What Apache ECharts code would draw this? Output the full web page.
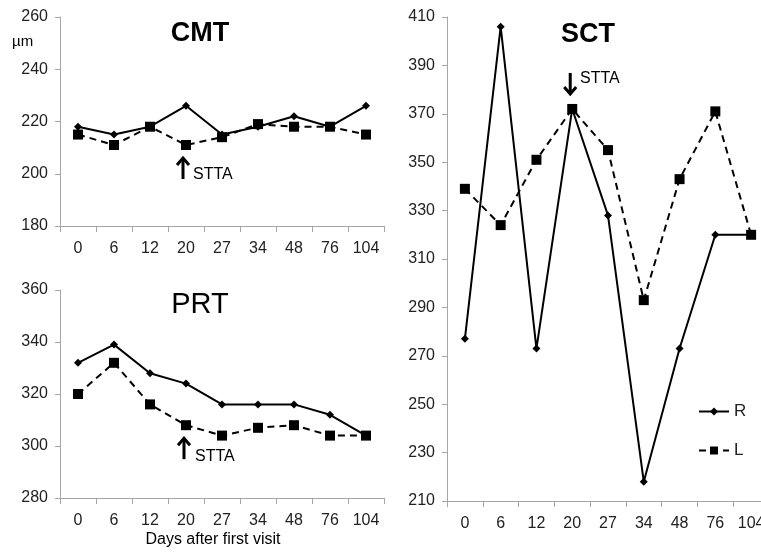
<!DOCTYPE html>
<html>
<head>
<meta charset="utf-8">
<script src="https://cdn.jsdelivr.net/npm/echarts@6/dist/echarts.min.js"></script>
<style>
  html, body { margin: 0; padding: 0; background: #fff; }
  #main { width: 761px; height: 558px; }
</style>
</head>
<body>
<div id="main"></div>
<script>
// days after first visit
var days = ['0', '6', '12', '20', '27', '34', '48', '76', '104'];

// central macular thickness
var cmtR = [218, 215, 218, 226, 215, 218, 222, 218, 226];
var cmtL = [215, 211, 218, 211, 214, 219, 218, 218, 215];
// peripapillary retinal thickness
var prtR = [332, 339, 328, 324, 316, 316, 316, 312, 304];
var prtL = [320, 332, 316, 308, 304, 307, 308, 304, 304];
// subfoveal choroidal thickness
var sctR = [277, 406, 273, 372, 328, 218, 273, 320, 320];
var sctL = [339, 324, 351, 372, 355, 293, 343, 371, 320];

var myChart = echarts.init(document.getElementById('main'));
var FONT = '"Liberation Sans", Arial, sans-serif';

function xAx(gi) {
    return {
        type: 'category', gridIndex: gi, data: days, boundaryGap: true,
        axisLine: { lineStyle: { color: '#a6a6a6', width: 1 } },
        axisTick: { show: true, interval: 0, length: 6, lineStyle: { color: '#a6a6a6' } },
        axisLabel: { interval: 0, color: '#222', fontSize: 16, fontFamily: FONT, margin: 15 }
    };
}
function yAx(gi, min, max) {
    return {
        type: 'value', gridIndex: gi, min: min, max: max, interval: 20,
        axisLine: { show: true, lineStyle: { color: '#a6a6a6', width: 1 } },
        axisTick: { show: true, length: 5, lineStyle: { color: '#a6a6a6' } },
        splitLine: { show: false },
        axisLabel: { color: '#222', fontSize: 16, fontFamily: FONT, margin: 12 }
    };
}
function lineR(gi, data) {
    return {
        name: 'R', type: 'line', xAxisIndex: gi, yAxisIndex: gi, data: data,
        symbol: 'diamond', symbolSize: 8, color: '#000',
        lineStyle: { color: '#000', width: 2 }, itemStyle: { color: '#000' },
        animation: false
    };
}
function lineL(gi, data) {
    return {
        name: 'L', type: 'line', xAxisIndex: gi, yAxisIndex: gi, data: data,
        symbol: 'rect', symbolSize: 10, color: '#000',
        lineStyle: { color: '#000', width: 2, type: [7, 5] }, itemStyle: { color: '#000' },
        animation: false
    };
}

option = {
    backgroundColor: '#fff',
    textStyle: { fontFamily: FONT },
    grid: [
        { left: 60, top: 17, width: 324, height: 209, outerBoundsMode: 'none' },
        { left: 60, top: 290, width: 324, height: 208, outerBoundsMode: 'none' },
        { left: 447, top: 17, width: 322, height: 484, outerBoundsMode: 'none' }
    ],
    xAxis: [xAx(0), xAx(1), xAx(2)],
    yAxis: [yAx(0, 180, 260), yAx(1, 280, 360), yAx(2, 210, 410)],
    legend: {
        data: ['R', 'L'], orient: 'vertical', left: 693, top: 398,
        itemWidth: 30, itemHeight: 10, itemGap: 22,
        textStyle: { fontSize: 17, color: '#222', fontFamily: FONT }
    },
    series: [
        lineR(0, cmtR), lineL(0, cmtL),
        lineR(1, prtR), lineL(1, prtL),
        lineR(2, sctR), lineL(2, sctL)
    ]
};

myChart.setOption(option);

// annotations: panel titles, unit, axis name, STTA arrows
function arrow(x, yTip, down) {
    var s = down ? -1 : 1;
    var len = 22;
    return {
        type: 'group', children: [
            { type: 'polyline', shape: { points: [[x, yTip + s * 2], [x, yTip + s * len]] },
              style: { stroke: '#000', lineWidth: 3 } },
            { type: 'polyline', shape: { points: [[x - 6, yTip + s * 8], [x, yTip + s * 1], [x + 6, yTip + s * 8]] },
              style: { stroke: '#000', lineWidth: 3, fill: null } }
        ]
    };
}
function txt(x, y, t, size, weight, align) {
    return {
        type: 'text', x: x, y: y,
        style: { text: t, fontSize: size, fontWeight: weight || 'normal', fontFamily: FONT,
                 fill: '#000', align: align || 'center', verticalAlign: 'middle' }
    };
}

var cmtPt = myChart.convertToPixel({ xAxisIndex: 0, yAxisIndex: 0 }, ['20', cmtL[3]]);
var prtPt = myChart.convertToPixel({ xAxisIndex: 1, yAxisIndex: 1 }, ['20', prtL[3]]);
var sctPt = myChart.convertToPixel({ xAxisIndex: 2, yAxisIndex: 2 }, ['20', sctL[3]]);

myChart.setOption({
    graphic: [
        txt(200, 34, 'CMT', 27, 'bold'),
        txt(200, 305, 'PRT', 29, 'normal'),
        txt(588, 35, 'SCT', 27, 'bold'),
        txt(12, 42, 'µm', 15, 'normal', 'left'),
        txt(213, 540, 'Days after first visit', 16, 'normal'),
        arrow(cmtPt[0] - 3, cmtPt[1] + 12, false),
        txt(193, 175, 'STTA', 16, 'normal', 'left'),
        arrow(prtPt[0] - 2, prtPt[1] + 12, false),
        txt(195, 457, 'STTA', 16, 'normal', 'left'),
        arrow(sctPt[0] - 2, sctPt[1] - 14, true),
        txt(580, 79, 'STTA', 16, 'normal', 'left')
    ]
});
</script>
</body>
</html>
